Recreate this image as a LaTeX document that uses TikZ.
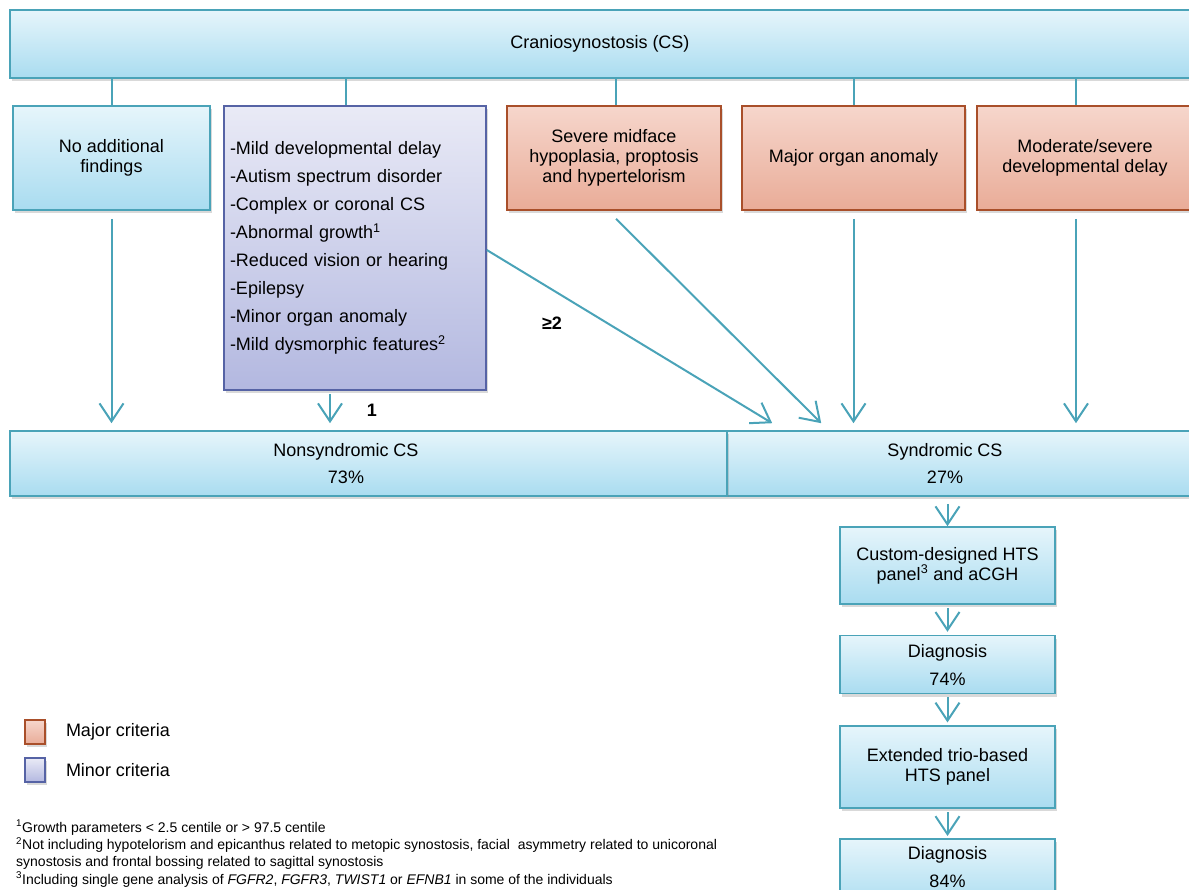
\documentclass[tikz,border=0pt]{standalone}
\usepackage{fontspec}
\setmainfont{Liberation Sans}
\newfontfamily\notefont{Liberation Sans}
\usetikzlibrary{arrows.meta,positioning,shadows,calc}
\definecolor{csline}{HTML}{4AA3B8}
\definecolor{bluetop}{HTML}{E6F5FB}
\definecolor{bluebot}{HTML}{A9DCF0}
\definecolor{majline}{HTML}{A94F2A}
\definecolor{majtop}{HTML}{F6D6CC}
\definecolor{majbot}{HTML}{E9AC98}
\definecolor{minline}{HTML}{5663A5}
\definecolor{mintop}{HTML}{E9EAF6}
\definecolor{minbot}{HTML}{B3B8E0}
\tikzset{
  box/.style={rectangle, line width=1.6pt, inner sep=0pt, align=center,
    font=\fontsize{18}{20}\selectfont,
    drop shadow={shadow xshift=1.5pt, shadow yshift=-3pt, opacity=0.3}},
  bluebox/.style={box, draw=csline, top color=bluetop, bottom color=bluebot},
  majorbox/.style={box, draw=majline, top color=majtop, bottom color=majbot},
  minorbox/.style={box, draw=minline, top color=mintop, bottom color=minbot},
  boxtext/.style={inner sep=0pt, align=center, font=\fontsize{18}{27}\selectfont},
  link/.style={draw=csline, line width=2pt},
  flow/.style={link, -{Straight Barb[length=18pt,width=24pt]}},
}

\begin{document}
\begin{tikzpicture}[x=1pt,y=-1pt]
  \useasboundingbox (0,0) rectangle (1189,890);
  \clip (0,0) rectangle (1189,890);
        \node[bluebox, minimum width=1180pt, minimum height=68pt] (cs) at (600,44) {Craniosynostosis (CS)};
        \node[bluebox, minimum width=197pt, minimum height=104pt] (nof) at (111.5,158) {No additional\\findings};
        \node[minorbox, minimum width=262pt, minimum height=284pt, text width=250pt, align=left,
              font=\fontsize{18}{28}\selectfont] (minor) at (355,248)
              {-Mild developmental delay\\-Autism spectrum disorder\\-Complex or coronal CS\\
               -Abnormal growth\textsuperscript{1}\\-Reduced vision or hearing\\-Epilepsy\\
               -Minor organ anomaly\\-Mild dysmorphic features\textsuperscript{2}};
        \node[majorbox, minimum width=214pt, minimum height=104pt] (mid) at (614,158) {Severe midface\\hypoplasia, proptosis\\and hypertelorism};
        \node[majorbox, minimum width=223pt, minimum height=104pt] (organ) at (853.5,158) {Major organ anomaly};
        \node[majorbox, minimum width=216pt, minimum height=104pt] (modsev) at (1085,158) {Moderate/severe\\developmental delay};

        \node[bluebox, minimum width=468pt, minimum height=65pt] (syn) at (961,463.5) {};
        \node[bluebox, minimum width=717pt, minimum height=65pt] (nonsyn) at (368.5,463.5) {};
        \node[boxtext] (nonsyntext) at (346,463.5) {Nonsyndromic CS\\73\%};
        \node[boxtext] (syntext) at (945,463.5) {Syndromic CS\\27\%};

        \node[bluebox, minimum width=215pt, minimum height=77pt] (hts) at (947.5,565.5) {Custom-designed HTS\\panel\textsuperscript{3} and aCGH};
        \node[bluebox, font=\fontsize{18}{28}\selectfont, minimum width=215pt, minimum height=58pt, below=30pt of hts] (diag1) {Diagnosis\\74\%};
        \node[bluebox, minimum width=215pt, minimum height=82pt, below=31pt of diag1] (trio) {Extended trio-based\\HTS panel};
        \node[bluebox, minimum width=215pt, minimum height=70pt, below=29pt of trio] (diag2) {};
        \node[boxtext, font=\fontsize{18}{28}\selectfont, below=8pt of diag2.north] (diag2text) {Diagnosis\\84\%};

        \draw[link] (nof.north) -- (nof.north |- cs.south);
        \draw[link] ([xshift=-9pt]minor.north) -- ([xshift=-9pt]minor.north |- cs.south);
        \draw[link] ([xshift=2pt]mid.north) -- ([xshift=2pt]mid.north |- cs.south);
        \draw[link] (organ.north) -- (organ.north |- cs.south);
        \draw[link] ([xshift=-9pt]modsev.north) -- ([xshift=-9pt]modsev.north |- cs.south);

        \coordinate (in1) at ($(syn.north west)+(46,-7)$);
        \coordinate (in2) at ($(syn.north west)+(95,-7)$);
        \draw[flow, shorten <=8pt, shorten >=7pt] (nof.south) -- (nof.south |- nonsyn.north);
        \draw[flow, shorten <=3pt, shorten >=7pt] ([xshift=-25pt]minor.south) -- ([xshift=-25pt]minor.south |- nonsyn.north);
        \draw[flow] ([yshift=-2pt]minor.east) -- (in1);
        \draw[flow] ([xshift=2pt,yshift=-8pt]mid.south) -- (in2);
        \draw[flow, shorten <=8pt, shorten >=7pt] (organ.south) -- (organ.south |- syn.north);
        \draw[flow, shorten <=8pt, shorten >=7pt] ([xshift=-9pt]modsev.south) -- ([xshift=-9pt]modsev.south |- syn.north);
        \node[font=\bfseries\fontsize{18}{20}\selectfont] (one) at (372,410) {1};
        \node[font=\bfseries\fontsize{18}{20}\selectfont] (two) at (552,323) {≥2};

        \draw[flow, shorten <=7pt] (hts.north |- syn.south) -- (hts.north);
        \draw[flow, shorten <=3pt, shorten >=3pt] (hts) -- (diag1);
        \draw[flow, shorten <=3pt, shorten >=3pt] (diag1) -- (trio);
        \draw[flow, shorten <=3pt, shorten >=2pt] (trio) -- (diag2);

        \node[majorbox, minimum width=20pt, minimum height=24pt] (majkey) at (35,732) {};
        \node[minorbox, minimum width=20pt, minimum height=24pt] (minkey) at (35,770) {};
        \node[boxtext, right=20pt of majkey] (majtext) {Major criteria};
        \node[boxtext, right=20pt of minkey] (mintext) {Minor criteria};

        \node[inner sep=0pt, anchor=north west, align=left, font=\notefont\fontsize{14}{17.3}\selectfont] (notes) at (16,820)
             {\textsuperscript{1}Growth parameters < 2.5 centile or > 97.5 centile\\
              \textsuperscript{2}Not including hypotelorism and epicanthus related to metopic synostosis, facial\ \ asymmetry related to unicoronal\\
              synostosis and frontal bossing related to sagittal synostosis\\
              \textsuperscript{3}Including single gene analysis of \textit{FGFR2}, \textit{FGFR3}, \textit{TWIST1} or \textit{EFNB1} in some of the individuals};
\end{tikzpicture}
\end{document}
